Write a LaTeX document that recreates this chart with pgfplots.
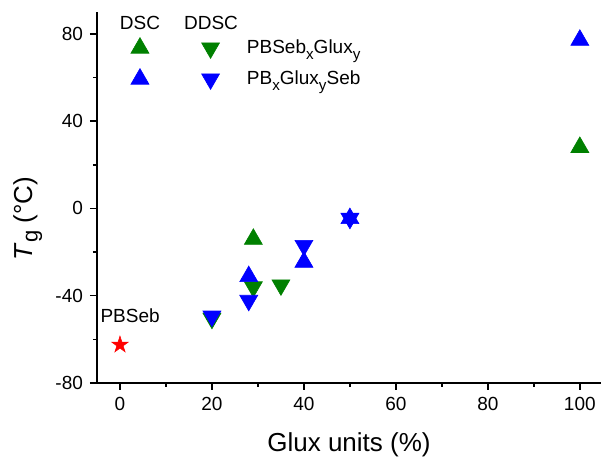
\documentclass[border=0pt]{standalone}
\usepackage{fontspec}
\setmainfont{Liberation Sans}
\usepackage{pgfplots}
\pgfplotsset{compat=1.18}
\definecolor{ogreen}{RGB}{0,128,0}
\definecolor{oblue}{RGB}{0,0,255}
\definecolor{ored}{RGB}{255,0,0}
\newcommand{\sub}[1]{\raisebox{-0.33em}{\fontsize{7.6}{8}\selectfont #1}}
\pgfdeclareplotmark{fstar}{%
  \pgfpathmoveto{\pgfpointpolar{90}{\pgfplotmarksize}}%
  \pgfpathlineto{\pgfpointpolar{126}{0.382\pgfplotmarksize}}%
  \pgfpathlineto{\pgfpointpolar{162}{\pgfplotmarksize}}%
  \pgfpathlineto{\pgfpointpolar{198}{0.382\pgfplotmarksize}}%
  \pgfpathlineto{\pgfpointpolar{234}{\pgfplotmarksize}}%
  \pgfpathlineto{\pgfpointpolar{270}{0.382\pgfplotmarksize}}%
  \pgfpathlineto{\pgfpointpolar{306}{\pgfplotmarksize}}%
  \pgfpathlineto{\pgfpointpolar{342}{0.382\pgfplotmarksize}}%
  \pgfpathlineto{\pgfpointpolar{18}{\pgfplotmarksize}}%
  \pgfpathlineto{\pgfpointpolar{54}{0.382\pgfplotmarksize}}%
  \pgfpathclose\pgfusepathqfillstroke}
\begin{document}
\begin{tikzpicture}
\begin{axis}[
  scale only axis, width=252pt, height=185.5pt,
  xmin=-5, xmax=104.6, ymin=-80, ymax=90,
  axis x line*=bottom, axis y line*=left,
  axis line style={line width=0.8pt, -},
  tick align=outside, major tick length=3.5pt, minor tick length=2pt,
  every tick/.style={line width=0.8pt, black},
  xtick={0,20,...,100}, minor xtick={10,30,...,90},
  ytick={-80,-40,...,80}, minor ytick={-60,-20,20,60},
  tick label style={font=\fontsize{9.5}{11}\selectfont},
  /pgf/number format/assume math mode=true,
  xlabel={Glux units (\%)},
  ylabel={\textit{T}{\fontsize{11}{12}\selectfont\raisebox{-0.25em}{g}} (°C)},
  label style={font=\fontsize{13}{15}\selectfont},
  xlabel style={at={(axis description cs:0.5,0)}, anchor=south, yshift=-38pt, inner sep=1pt},
  ylabel style={at={(axis description cs:-0.167,0.443)}, anchor=north, inner sep=0pt},
  legend style={draw=none, fill=none, inner sep=0pt, outer sep=0pt, row sep=0pt, column sep=0pt,
    at={(axis cs:2.17,66.4)}, anchor=west, font=\fontsize{9.5}{11}\selectfont, nodes={inner sep=0pt}},
  legend cell align=left,
  clip=false,
]
\addplot[only marks, mark=triangle*, mark size=5.2pt, mark options={fill=ogreen, draw=ogreen, line width=0.3pt}, forget plot]
  coordinates {(29,-14.1) (100,28)};
\addplot[only marks, mark=triangle*, mark size=5.2pt, mark options={rotate=180, fill=ogreen, draw=ogreen, line width=0.3pt}, forget plot]
  coordinates {(20,-50.4) (29,-36) (35,-35.1)};
\addplot[only marks, mark=triangle*, mark size=5.2pt, mark options={fill=oblue, draw=oblue, line width=0.3pt}, forget plot]
  coordinates {(28,-31.2) (40,-24.6) (50,-4.6) (100,77.1)};
\addplot[only marks, mark=triangle*, mark size=5.2pt, mark options={rotate=180, fill=oblue, draw=oblue, line width=0.3pt}, forget plot]
  coordinates {(20,-49.4) (28,-42.2) (40,-17) (50,-4.6)};
\addplot[only marks, mark=fstar, mark size=4.3pt, mark options={fill=ored, draw=ored, line width=0.3pt}, forget plot]
  coordinates {(0,-62.5)};
\addlegendimage{legend image code/.code={%
  \path[draw=none, fill=none] (-5pt,-7.75pt) rectangle (53.5pt,7.75pt);
  \path plot[only marks, mark=triangle*, mark size=5.2pt, mark options={fill=ogreen, draw=ogreen, line width=0.3pt}] coordinates {(0pt,0pt)};
  \path plot[only marks, mark=triangle*, mark size=5.2pt, mark options={rotate=180, fill=ogreen, draw=ogreen, line width=0.3pt}] coordinates {(35.3pt,0pt)};
}}
\addlegendentry{PBSeb\sub{x}Glux\sub{y}}
\addlegendimage{legend image code/.code={%
  \path[draw=none, fill=none] (-5pt,-7.75pt) rectangle (53.5pt,7.75pt);
  \path plot[only marks, mark=triangle*, mark size=5.2pt, mark options={fill=oblue, draw=oblue, line width=0.3pt}] coordinates {(0pt,0pt)};
  \path plot[only marks, mark=triangle*, mark size=5.2pt, mark options={rotate=180, fill=oblue, draw=oblue, line width=0.3pt}] coordinates {(35.3pt,0pt)};
}}
\addlegendentry{PB\sub{x}Glux\sub{y}Seb}
\node[font=\fontsize{9.5}{11}\selectfont] at (axis cs:4.35,84.9) {DSC};
\node[font=\fontsize{9.5}{11}\selectfont] at (axis cs:19.8,84.9) {DDSC};
\node[font=\fontsize{9.5}{11}\selectfont] at (axis cs:2.2,-49) {PBSeb};
\end{axis}
\pgfresetboundingbox
\path (-48.5pt,-38pt) rectangle (252pt,191.5pt);
\end{tikzpicture}
\end{document}
